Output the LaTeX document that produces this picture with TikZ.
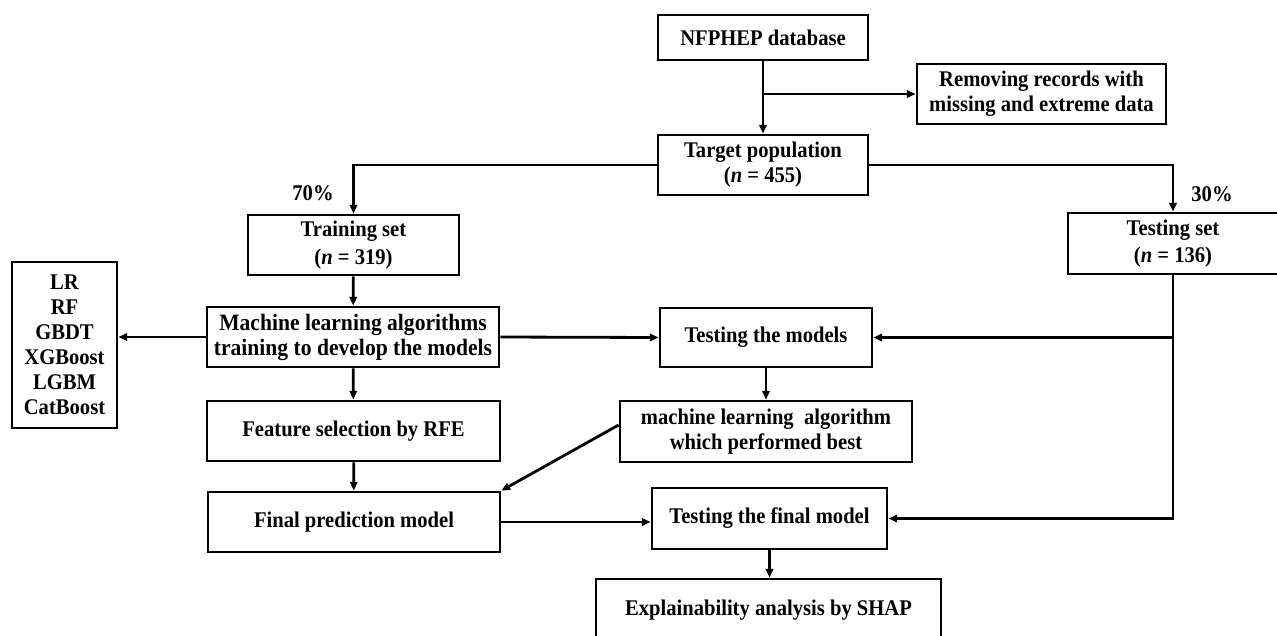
\documentclass[tikz,border=0pt]{standalone}
\usepackage{fontspec}
\setmainfont{Liberation Serif}[FakeStretch=0.92]
\usetikzlibrary{arrows.meta,calc}

\newcommand{\boxfont}{\fontsize{16.8}{18.8}\selectfont\bfseries}
\newcommand{\wideboxfont}{\fontsize{17.6}{18.8}\selectfont\bfseries}

\tikzset{
  every picture/.style={x=0.75pt,y=-0.75pt},
  box/.style 2 args={draw=black,line width=2.1pt,inner sep=0pt,
    minimum width=#1*0.75pt,minimum height=#2*0.75pt,align=center,
    font=\boxfont},
  arr/.style={line width=2.1pt,-{Triangle[length=6.5pt,width=5.5pt]}},
  pct/.style={font=\boxfont,inner sep=0pt}
}

\begin{document}
\begin{tikzpicture}
  \clip (0,0) rectangle (1277,635);
  \fill[white] (0,0) rectangle (1277,635);

  % boxes
  \node[box={210}{45}]  (db)   at (763,37.5)   {NFPHEP database};
  \node[box={249}{60}]  (rm)   at (1041.5,94)  {Removing records with\\missing and extreme data};
  \node[box={210}{60}]  (tp)   at (763,165)    {Target population\\({\itshape n} = 455)};
  \node[box={211}{60}]  (tr)   at (353.5,245)  {Training set\\[2pt]({\itshape n} = 319)};
  \node[box={210}{61}]  (ts)   at (1173,243.5) {Testing set\\[2pt]({\itshape n} = 136)};
  \node[box={105}{166}] (alg)  at (64.5,345)   {LR\\RF\\GBDT\\XGBoost\\LGBM\\CatBoost};
  \node[box={292}{60},font=\wideboxfont] (ml) at (353,337)
       {Machine learning algorithms\\training to develop the models};
  \node[box={212}{59}]  (tm)   at (766,337.5)  {Testing the models};
  \node[box={292}{61}]  (best) at (766,431.5)  {machine learning~ algorithm\\which performed best};
  \node[box={293}{60}]  (fs)   at (353.5,431)  {Feature selection by RFE};
  \node[box={292}{60}]  (fp)   at (354,522)    {Final prediction model};
  \node[box={235}{61}]  (tf)   at (769.5,518.5){Testing the final model};
  \node[box={345}{62}]  (ex)   at (768.5,610)  {Explainability analysis by SHAP};

  % split labels
  \node[pct] (p70) at (313,193) {70\%};
  \node[pct] (p30) at (1212,194) {30\%};

  % connectors
  \draw[arr] (db) -- (tp);
  \draw[arr] (db.south |- rm.west) -- (rm.west);
  \draw[arr] (tp.west) -| (tr.north);
  \draw[arr] (tp.east) -| (ts.north);
  \draw[arr] (tr) -- (ml);
  \draw[arr] (ml.west) -- (ml.west -| alg.east);
  \draw[arr] (ml.east) -- (tm.west);
  \draw[arr] (ts.south) |- (tf.east);
  \draw[arr] (ts.south |- tm.east) -- (tm.east);
  \draw[arr] (tm) -- (best);
  \draw[arr] ([shift={(0,-6.5)}]best.west) -- (fp.north east);
  \draw[arr] (ml) -- (fs);
  \draw[arr] (fs) -- (fp);
  \draw[arr] (fp.east) -- (fp.east -| tf.west);
  \draw[arr] (tf.south) -- (tf.south |- ex.north);
\end{tikzpicture}
\end{document}
